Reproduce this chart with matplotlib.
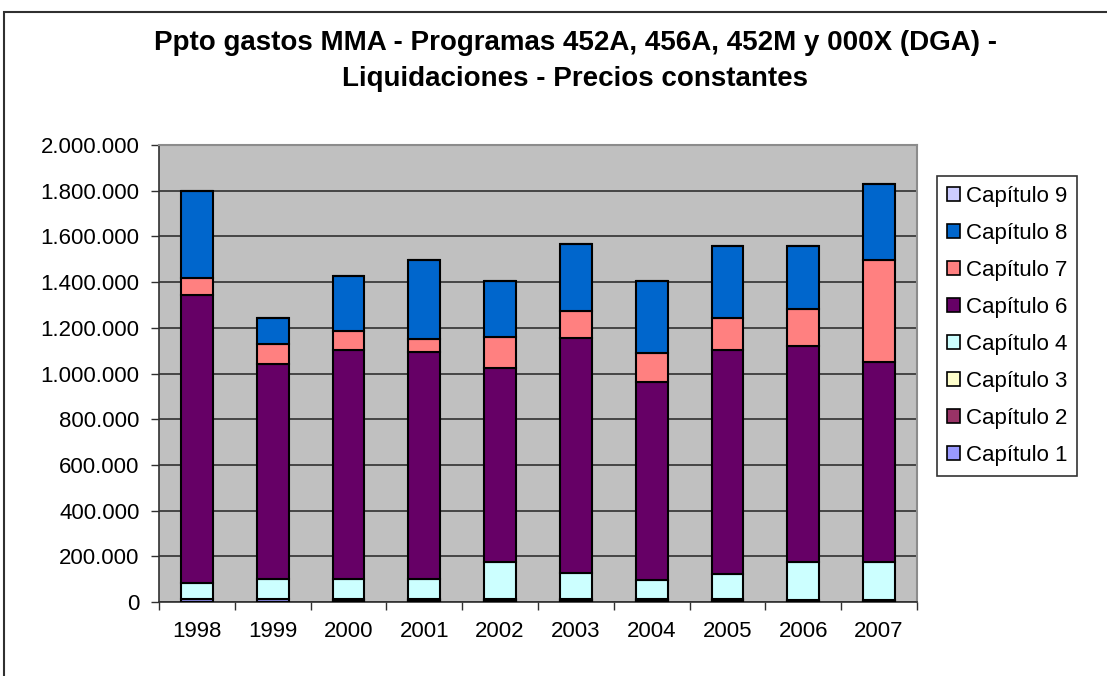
import matplotlib
matplotlib.use("Agg")
import matplotlib.pyplot as plt
from matplotlib.patches import Rectangle, Patch
from matplotlib.ticker import FuncFormatter, FixedLocator
import numpy as np

plt.rcParams['font.family'] = ['Liberation Sans', 'DejaVu Sans']

anios = ['1998', '1999', '2000', '2001', '2002', '2003', '2004', '2005', '2006', '2007']

# valores (euros, precios constantes)
cap1 = [12000, 12000, 6000, 6000, 6000, 6000, 6000, 6000, 4000, 4000]
cap2 = [0, 0, 4000, 4000, 4000, 4000, 4000, 4000, 3000, 3000]
cap3 = [0, 0, 2000, 2000, 2000, 2000, 2000, 2000, 1000, 1000]
cap4 = [72000, 87000, 87000, 87000, 163000, 116000, 84000, 109000, 166000, 166000]
cap6 = [1259000, 944000, 1004000, 996000, 850000, 1029000, 868000, 982000, 946000, 876000]
cap7 = [76000, 85000, 84000, 56000, 133000, 116000, 124000, 139000, 161000, 447000]
cap8 = [381000, 116000, 240000, 346000, 247000, 292000, 317000, 316000, 277000, 332000]
cap9 = [0, 0, 0, 0, 0, 0, 0, 0, 0, 0]

series = [
    ('Capítulo 1', cap1, '#9999FF'),
    ('Capítulo 2', cap2, '#993366'),
    ('Capítulo 3', cap3, '#FFFFCC'),
    ('Capítulo 4', cap4, '#CCFFFF'),
    ('Capítulo 6', cap6, '#660066'),
    ('Capítulo 7', cap7, '#FF8080'),
    ('Capítulo 8', cap8, '#0066CC'),
    ('Capítulo 9', cap9, '#CCCCFF'),
]

fig = plt.figure(figsize=(11.07, 6.76), dpi=100)
fig.patch.set_facecolor('white')

# borde del area del grafico
fig.add_artist(Rectangle((4 / 1107, -0.05), 1.2, 1 - 12 / 676 + 0.05,
                         transform=fig.transFigure, fill=False,
                         edgecolor='#303030', linewidth=1.5))

ax = fig.add_axes([159 / 1107, 74 / 676, 758 / 1107, 457 / 676])
ax.set_facecolor('#C0C0C0')

x = np.arange(len(anios))
base = np.zeros(len(anios))
handles = []
for nombre, vals, color in series:
    vals = np.array(vals, dtype=float)
    ax.bar(x, vals, width=0.42, bottom=base, color=color,
           edgecolor='black', linewidth=1.5, zorder=3)
    base += vals
    handles.append(Patch(facecolor=color, edgecolor='black', linewidth=1.2, label=nombre))

ax.set_xlim(-0.5, 9.5)
ax.set_ylim(0, 2000000)
ax.set_yticks(np.arange(0, 2000001, 200000))
ax.yaxis.set_major_formatter(FuncFormatter(lambda v, p: f"{int(v):,}".replace(",", ".")))
ax.grid(axis='y', color='#303030', linewidth=1.2, zorder=1)

ax.set_xticks(x)
ax.set_xticklabels(anios)
ax.xaxis.set_minor_locator(FixedLocator(np.arange(-0.5, 10, 1)))
ax.tick_params(axis='x', which='major', length=0, pad=14, labelsize=16)
ax.tick_params(axis='x', which='minor', length=6, width=1, color='#303030')
ax.tick_params(axis='y', length=6, width=1, color='#303030', labelsize=16, pad=8)

for s in ['top', 'right']:
    ax.spines[s].set_color('#8C8C8C')
    ax.spines[s].set_linewidth(1.5)
for s in ['left', 'bottom']:
    ax.spines[s].set_color('#303030')
    ax.spines[s].set_linewidth(1.2)

fig.text(575 / 1107, 1 - 61 / 676,
         'Ppto gastos MMA - Programas 452A, 456A, 452M y 000X (DGA) -\nLiquidaciones - Precios constantes',
         ha='center', va='center', fontsize=20, fontweight='bold', linespacing=1.45)

leg = fig.legend(handles=handles[::-1], loc='upper left',
                 bbox_to_anchor=(937 / 1107, 1 - 176 / 676),
                 fontsize=16, frameon=True, fancybox=False, shadow=False,
                 handlelength=0.6, handleheight=0.6, handletextpad=0.25,
                 labelspacing=0.72, borderpad=0.45, borderaxespad=0)
leg.get_frame().set_edgecolor('black')
leg.get_frame().set_linewidth(1.2)

fig.savefig('out.png', dpi=100)
